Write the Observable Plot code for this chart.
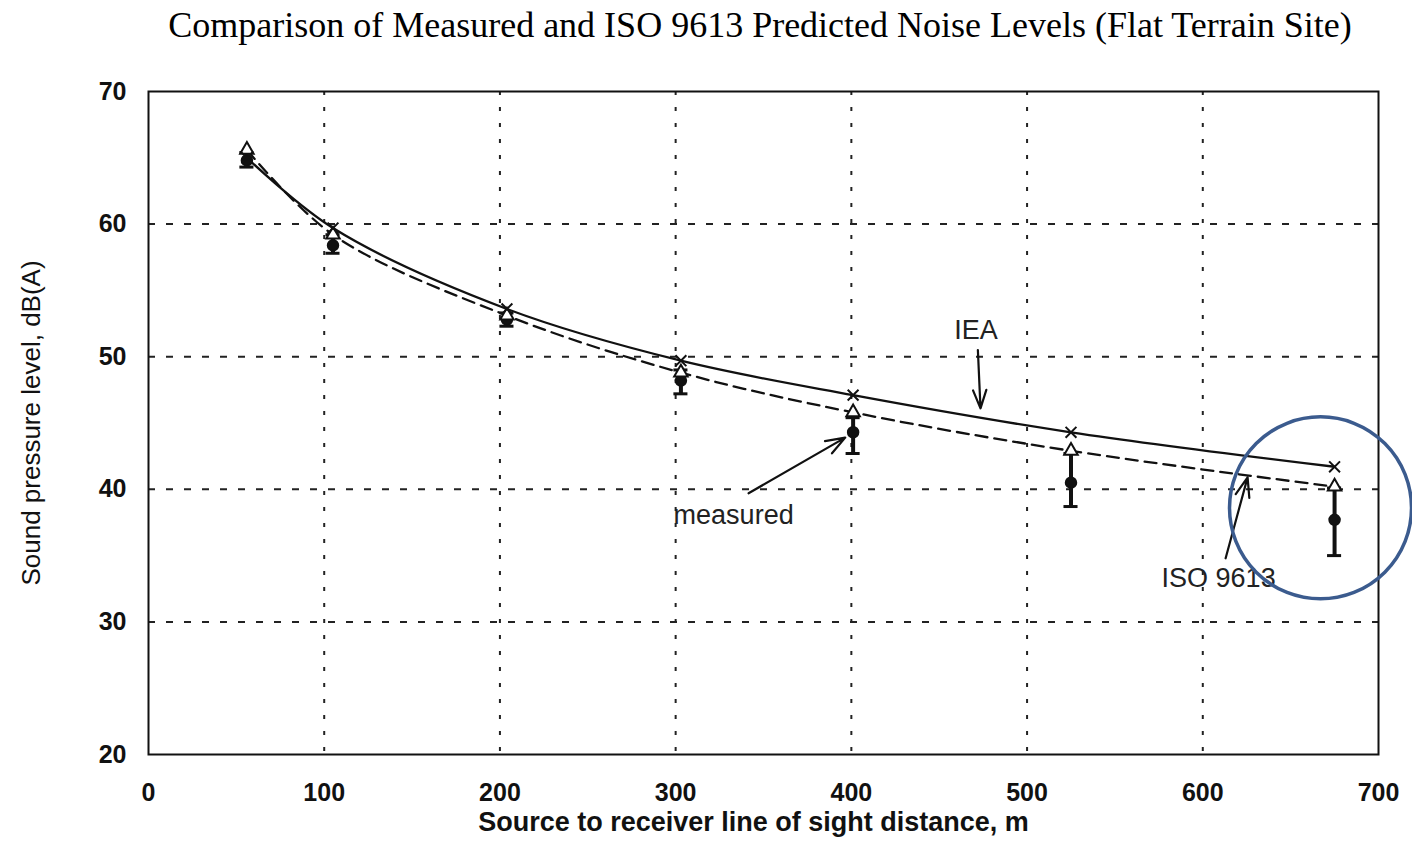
<!DOCTYPE html>
<html>
<head>
<meta charset="utf-8">
<script src="https://cdn.jsdelivr.net/npm/d3@7"></script>
<script src="https://cdn.jsdelivr.net/npm/@observablehq/plot@0.6"></script>
<style>
  html, body { margin: 0; padding: 0; background: #fff; }
  #title { height: 60px; box-sizing: border-box; padding-top: 4px; padding-left: 108px; text-align: center;
    font-family: "Liberation Serif", "DejaVu Serif", serif; font-size: 36px; color: #000; white-space: nowrap; }
  g[aria-label="x-axis tick label"] text, g[aria-label="y-axis tick label"] text {
    font-family: "Liberation Sans", Arial, sans-serif; font-weight: bold; font-size: 25px; fill: #111; }
</style>
</head>
<body>
<div id="title">Comparison of Measured and ISO 9613 Predicted Noise Levels (Flat Terrain Site)</div>
<div id="chart"></div>
<script>
// Data
const distance   = [56, 105, 204, 303, 401, 525, 675];      // m
const iea        = [65.0, 59.7, 53.6, 49.7, 47.1, 44.3, 41.7];
const iso9613    = [65.6, 59.2, 53.1, 48.8, 45.8, 42.9, 40.2];
const measured   = [64.8, 58.4, 52.8, 48.2, 44.3, 40.5, 37.7];
const measuredLo = [64.3, 57.8, 52.3, 47.2, 42.7, 38.7, 35.0];
const measuredHi = [65.4, 59.2, 53.3, 49.0, 45.4, 42.7, 40.1];

const xTicks = [0, 100, 200, 300, 400, 500, 600, 700];
const yTicks = [20, 30, 40, 50, 60, 70];
const xLabel = "Source to receiver line of sight distance, m";
const yLabel = "Sound pressure level, dB(A)";

// Annotation labels and arrows (data units)
const labels = [
  {text: "IEA", x: 471, y: 52.0},
  {text: "measured", x: 333, y: 38.0},
  {text: "ISO 9613", x: 609, y: 33.3}
];
const arrows = [
  {x1: 472, y1: 50.5, x2: 473.5, y2: 46.1},
  {x1: 341.5, y1: 39.7, x2: 396.5, y2: 43.9},
  {x1: 613, y1: 34.8, x2: 625.5, y2: 40.9}
];
const highlight = [{x: 667, y: 38.6}];

const rows = distance.map((d, i) => ({
  d, iea: iea[i], iso: iso9613[i], m: measured[i], lo: measuredLo[i], hi: measuredHi[i]
}));
const capHalf = 4;

const chart = Plot.plot({
  width: 1412,
  height: 784,
  marginLeft: 148,
  marginRight: 34,
  marginTop: 31,
  marginBottom: 90,
  style: {fontFamily: "Liberation Sans, Arial, sans-serif", background: "#fff"},
  x: {domain: [0, 700]},
  y: {domain: [20, 70]},
  marks: [
    Plot.ruleX(xTicks.filter(t => t > 0 && t < 700), {stroke: "#222", strokeWidth: 2, strokeDasharray: "4,12"}),
    Plot.ruleY(yTicks.filter(t => t > 20 && t < 70), {stroke: "#222", strokeWidth: 2, strokeDasharray: "7,11"}),
    Plot.axisX({ticks: xTicks, tickSize: 0, tickPadding: 29, label: null}),
    Plot.axisY({ticks: yTicks, tickSize: 0, tickPadding: 22, label: null}),
    Plot.frame({stroke: "#111", strokeWidth: 2}),
    // curves
    Plot.line(rows, {x: "d", y: "iso", curve: "catmull-rom", stroke: "#111", strokeWidth: 2.3, strokeDasharray: "12,7"}),
    Plot.line(rows, {x: "d", y: "iea", curve: "catmull-rom", stroke: "#111", strokeWidth: 2.3}),
    // measured error bars
    Plot.ruleX(rows, {x: "d", y1: "lo", y2: "hi", stroke: "#111", strokeWidth: 4}),
    Plot.ruleY(rows, {y: "lo", x1: r => r.d - capHalf, x2: r => r.d + capHalf, stroke: "#111", strokeWidth: 3}),
    Plot.ruleY(rows, {y: "hi", x1: r => r.d - capHalf, x2: r => r.d + capHalf, stroke: "#111", strokeWidth: 3}),
    Plot.dot(rows, {x: "d", y: "m", r: 5.5, fill: "#111", stroke: "#111"}),
    Plot.dot(rows, {x: "d", y: "iso", symbol: "triangle", r: 5, fill: "#fff", stroke: "#111", strokeWidth: 2}),
    Plot.dot(rows, {x: "d", y: "iea", symbol: "times", r: 5, stroke: "#111", strokeWidth: 2}),
    // annotations
    Plot.arrow(arrows, {x1: "x1", y1: "y1", x2: "x2", y2: "y2", stroke: "#111", strokeWidth: 2.2, headLength: 14, headAngle: 40}),
    Plot.text(labels, {x: "x", y: "y", text: "text", fontSize: 27, fill: "#222"}),
    Plot.text([xLabel], {frameAnchor: "bottom", dx: -10, dy: 76, fontSize: 27, fontWeight: "bold", fill: "#111"}),
    Plot.text([yLabel], {frameAnchor: "left", textAnchor: "middle", dx: -117, rotate: -90, fontSize: 26, fill: "#111"}),
    Plot.dot(highlight, {x: "x", y: "y", r: 91, fill: "none", stroke: "#3b5b8e", strokeWidth: 3.5})
  ]
});
document.getElementById("chart").appendChild(chart);
</script>
</body>
</html>
